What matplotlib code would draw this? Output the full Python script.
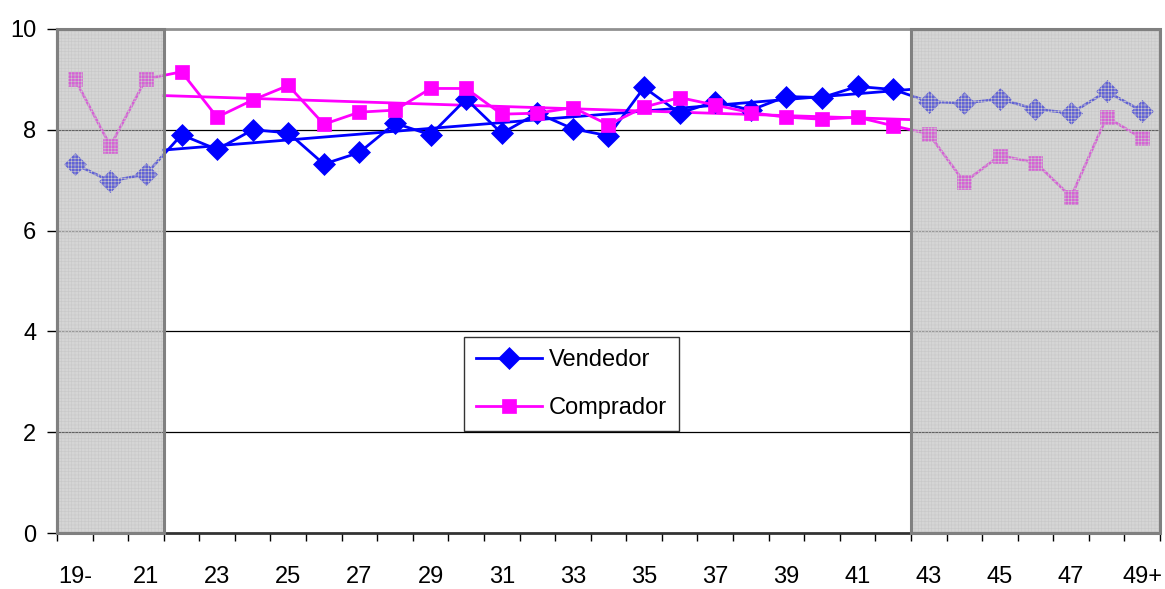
import numpy as np
import matplotlib
matplotlib.use("Agg")
import matplotlib.pyplot as plt
from matplotlib.patches import Rectangle

plt.rcParams['font.family'] = ['Liberation Sans', 'DejaVu Sans']

categories = ['19-'] + [str(a) for a in range(20, 49)] + ['49+']
vendedor = [7.32, 6.98, 7.12, 7.90, 7.61, 8.00, 7.94, 7.32, 7.55, 8.13, 7.90, 8.61,
            7.93, 8.33, 8.02, 7.88, 8.84, 8.33, 8.56, 8.39, 8.66, 8.64, 8.86, 8.80,
            8.56, 8.53, 8.61, 8.41, 8.33, 8.76, 8.37]
comprador = [9.01, 7.68, 9.01, 9.15, 8.25, 8.59, 8.88, 8.11, 8.35, 8.39, 8.82, 8.82,
             8.31, 8.33, 8.44, 8.10, 8.45, 8.64, 8.49, 8.34, 8.25, 8.21, 8.25, 8.08,
             7.92, 6.96, 7.49, 7.35, 6.67, 8.25, 7.83]
trend_range = ('22', '42')
shaded_groups = [('19-', '21'), ('43', '49+')]
yticks = [0, 2, 4, 6, 8, 10]

BLUE = '#0000ff'
MAGENTA = '#ff00ff'

fig = plt.figure(figsize=(11.65, 5.89), dpi=100)
ax = fig.add_axes([57/1165, 1-533/589, 1103/1165, 504/589])

x = np.arange(len(categories))
ax.set_xlim(-0.5, len(categories) - 0.5)
ax.set_ylim(0, 10)

# gridlines
for yv in yticks[1:-1]:
    ax.axhline(yv, color='black', lw=0.9, zorder=1)

lv, = ax.plot(x, vendedor, color=BLUE, lw=2, marker='D', ms=11, mec=BLUE, mew=0.5,
              zorder=3, label='Vendedor')
lc, = ax.plot(x, comprador, color=MAGENTA, lw=2, marker='s', ms=10, mec=MAGENTA, mew=0.5,
              zorder=3, label='Comprador')

# linear trend lines over the central range
i0 = categories.index(trend_range[0])
i1 = categories.index(trend_range[1])
xs = x[i0:i1 + 1]
xt = np.array([i0 - 0.5, i1 + 0.5])
for series, col in ((vendedor, BLUE), (comprador, MAGENTA)):
    p = np.polyfit(xs, np.array(series[i0:i1 + 1]), 1)
    ax.plot(xt, np.polyval(p, xt), color=col, lw=2, zorder=2)

# shaded regions overlaid on the data
plt.rcParams['hatch.linewidth'] = 0.4
for a, b in shaded_groups:
    ia = categories.index(a) - 0.5
    ib = categories.index(b) + 0.5
    ax.add_patch(Rectangle((ia, 0), ib - ia, 10, facecolor='#b4b4b4', alpha=0.55,
                           edgecolor='none', zorder=4))
    ax.add_patch(Rectangle((ia, 0), ib - ia, 10, facecolor='none', hatch='+++++',
                           edgecolor='#c8c8c8', lw=0, zorder=4.1))
    ax.add_patch(Rectangle((ia, 0), ib - ia, 10, facecolor='none',
                           edgecolor='#808080', lw=2.2, zorder=4.2, clip_on=False))

# spines
ax.spines['right'].set_visible(False)
ax.spines['top'].set_color('#909090')
ax.spines['top'].set_linewidth(2)
ax.spines['left'].set_color('#808080')
ax.spines['left'].set_linewidth(1.5)
ax.spines['bottom'].set_color('#333333')
ax.spines['bottom'].set_linewidth(2)

ax.set_yticks(yticks)
ax.set_yticklabels([str(v) for v in yticks], fontsize=17)
ax.tick_params(axis='y', length=7, width=1, color='black', pad=8)

ax.set_xticks(x[::2])
ax.set_xticklabels(categories[::2], fontsize=17)
ax.set_xticks(np.arange(len(categories) + 1) - 0.5, minor=True)
ax.tick_params(axis='x', which='major', length=0, pad=24)
ax.tick_params(axis='x', which='minor', length=6, width=1, color='black')

leg = fig.legend(handles=[lv, lc], loc='center',
                 bbox_to_anchor=(571.5/1165, 1-384/589),
                 fontsize=17, frameon=True, fancybox=False,
                 edgecolor='black', handlelength=2.8, borderpad=0.5,
                 labelspacing=1.1, handletextpad=0.3, borderaxespad=0)
leg.get_frame().set_linewidth(1)

fig.savefig('out.png', dpi=100)
